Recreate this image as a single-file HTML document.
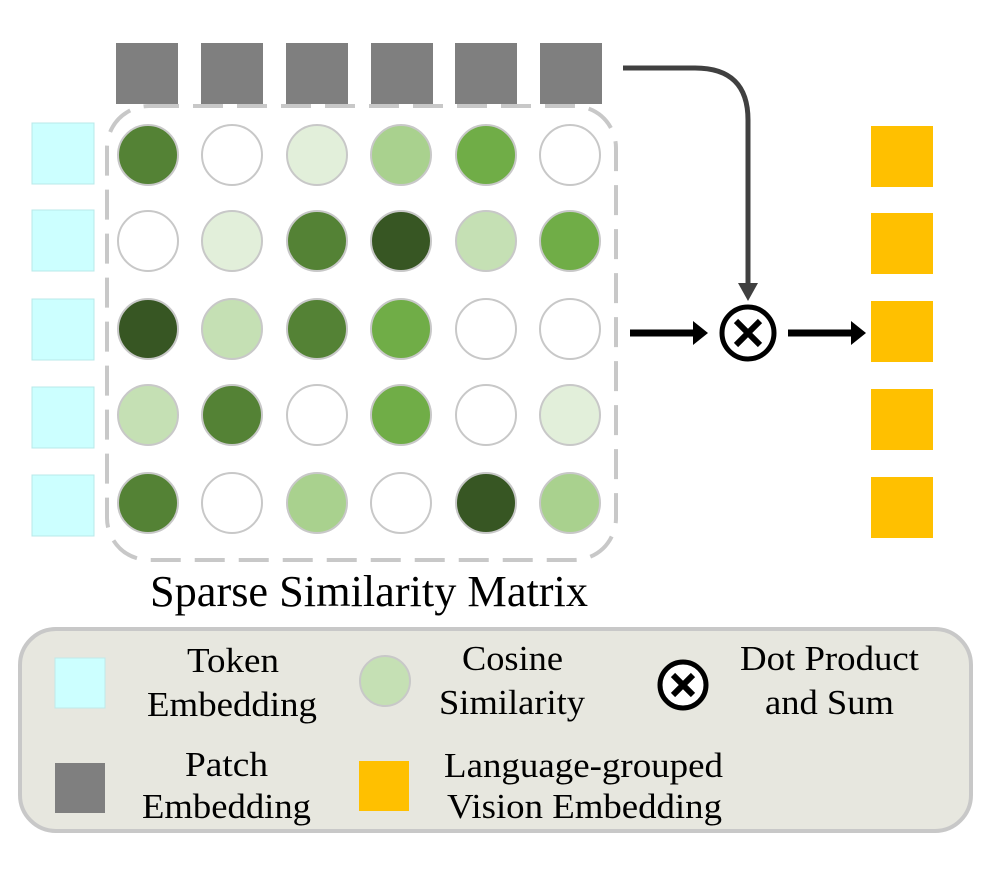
<!DOCTYPE html>
<html><head><style>body{margin:0;background:#fff}</style></head><body>
<svg width="996" height="865" viewBox="0 0 996 865" xmlns="http://www.w3.org/2000/svg" font-family="Liberation Serif, serif">
<g fill="#7f7f7f">
<rect x="116" y="43" width="62" height="61"/><rect x="201" y="43" width="62" height="61"/><rect x="286" y="43" width="62" height="61"/><rect x="371" y="43" width="62" height="61"/><rect x="455" y="43" width="62" height="61"/><rect x="540" y="43" width="62" height="61"/>
</g>
<g fill="#ccffff" stroke="#b8e8e8">
<rect x="32" y="123" width="62" height="61"/><rect x="32" y="210" width="62" height="61"/><rect x="32" y="299" width="62" height="61"/><rect x="32" y="387" width="62" height="61"/><rect x="32" y="475" width="62" height="61"/>
</g>
<g fill="#ffc000">
<rect x="871" y="126" width="62" height="61"/><rect x="871" y="213" width="62" height="61"/><rect x="871" y="301" width="62" height="61"/><rect x="871" y="389" width="62" height="61"/><rect x="871" y="477" width="62" height="61"/>
</g>
<rect x="107" y="106" width="509" height="454" rx="42" fill="none" stroke="#c8c8c8" stroke-width="4" stroke-dasharray="30,14"/>
<g stroke="#c8c8c8" stroke-width="2">
<circle cx="148" cy="155" r="30" fill="#548235"/><circle cx="232" cy="155" r="30" fill="#fff"/><circle cx="317" cy="155" r="30" fill="#e2efda"/><circle cx="401" cy="155" r="30" fill="#a9d18e"/><circle cx="486" cy="155" r="30" fill="#70ad47"/><circle cx="570" cy="155" r="30" fill="#fff"/>
<circle cx="148" cy="241" r="30" fill="#fff"/><circle cx="232" cy="241" r="30" fill="#e2efda"/><circle cx="317" cy="241" r="30" fill="#548235"/><circle cx="401" cy="241" r="30" fill="#375623"/><circle cx="486" cy="241" r="30" fill="#c5e0b4"/><circle cx="570" cy="241" r="30" fill="#70ad47"/>
<circle cx="148" cy="329" r="30" fill="#375623"/><circle cx="232" cy="329" r="30" fill="#c5e0b4"/><circle cx="317" cy="329" r="30" fill="#548235"/><circle cx="401" cy="329" r="30" fill="#70ad47"/><circle cx="486" cy="329" r="30" fill="#fff"/><circle cx="570" cy="329" r="30" fill="#fff"/>
<circle cx="148" cy="415" r="30" fill="#c5e0b4"/><circle cx="232" cy="415" r="30" fill="#548235"/><circle cx="317" cy="415" r="30" fill="#fff"/><circle cx="401" cy="415" r="30" fill="#70ad47"/><circle cx="486" cy="415" r="30" fill="#fff"/><circle cx="570" cy="415" r="30" fill="#e2efda"/>
<circle cx="148" cy="503" r="30" fill="#548235"/><circle cx="232" cy="503" r="30" fill="#fff"/><circle cx="317" cy="503" r="30" fill="#a9d18e"/><circle cx="401" cy="503" r="30" fill="#fff"/><circle cx="486" cy="503" r="30" fill="#375623"/><circle cx="570" cy="503" r="30" fill="#a9d18e"/>
</g>
<path d="M623 68 H695 Q748 68 748 120 V285" fill="none" stroke="#404040" stroke-width="5"/>
<polygon points="738,283 758,283 748,301" fill="#404040"/>
<circle cx="748" cy="333" r="26" fill="#fff" stroke="#000" stroke-width="5"/>
<path d="M736 321 L760 345 M760 321 L736 345" stroke="#000" stroke-width="6"/>
<path d="M630 333 H695" stroke="#000" stroke-width="7"/><polygon points="693,321 708,333 693,345" fill="#000"/>
<path d="M788 333 H853" stroke="#000" stroke-width="7"/><polygon points="851,321 866,333 851,345" fill="#000"/>
<text x="150" y="606" font-size="44" textLength="438" lengthAdjust="spacingAndGlyphs">Sparse Similarity Matrix</text>
<rect x="20" y="629" width="951" height="202" rx="36" fill="#e7e7df" stroke="#c8c8c8" stroke-width="4"/>
<rect x="55" y="658" width="50" height="50" fill="#ccffff" stroke="#c0e8e8"/>
<rect x="55" y="763" width="50" height="50" fill="#7f7f7f"/>
<circle cx="385" cy="681" r="25" fill="#c5e0b4" stroke="#c8c8c8" stroke-width="2"/>
<rect x="359" y="761" width="50" height="50" fill="#ffc000"/>
<circle cx="683" cy="685" r="23" fill="#fff" stroke="#000" stroke-width="5"/>
<path d="M673 675 L693 695 M693 675 L673 695" stroke="#000" stroke-width="6"/>
<g font-size="35" lengthAdjust="spacingAndGlyphs">
<text x="187" y="672" textLength="92" lengthAdjust="spacingAndGlyphs">Token</text>
<text x="147" y="716" textLength="170" lengthAdjust="spacingAndGlyphs">Embedding</text>
<text x="185" y="776" textLength="83" lengthAdjust="spacingAndGlyphs">Patch</text>
<text x="142" y="818" textLength="169" lengthAdjust="spacingAndGlyphs">Embedding</text>
<text x="462" y="670" textLength="101" lengthAdjust="spacingAndGlyphs">Cosine</text>
<text x="439" y="714" textLength="146" lengthAdjust="spacingAndGlyphs">Similarity</text>
<text x="740" y="670" textLength="179" lengthAdjust="spacingAndGlyphs">Dot Product</text>
<text x="765" y="714" textLength="129" lengthAdjust="spacingAndGlyphs">and Sum</text>
<text x="444" y="777" textLength="279" lengthAdjust="spacingAndGlyphs">Language-grouped</text>
<text x="447" y="818" textLength="275" lengthAdjust="spacingAndGlyphs">Vision Embedding</text>
</g>
</svg>
</body></html>
